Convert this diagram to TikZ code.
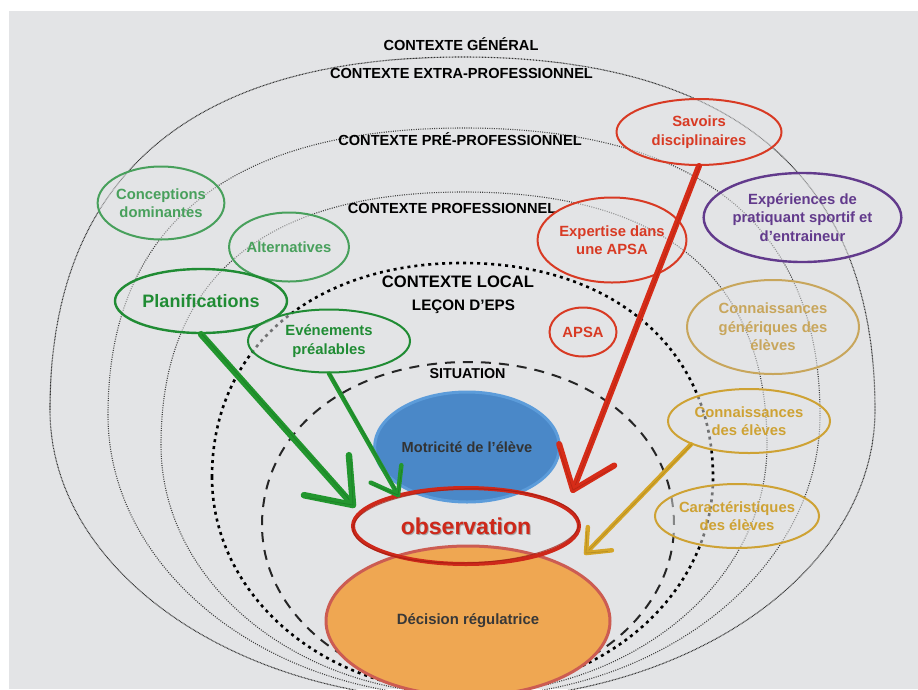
\documentclass[tikz,border=0pt]{standalone}
\usepackage{fontspec}
\setmainfont{Liberation Sans}
\usetikzlibrary{shapes.geometric,calc}
\definecolor{bg}{RGB}{227,228,230}
\definecolor{lgreen}{RGB}{72,160,92}
\definecolor{dgreen}{RGB}{32,140,52}
\definecolor{agreen}{RGB}{34,150,46}
\definecolor{cred}{RGB}{216,58,36}
\definecolor{ared}{RGB}{214,44,24}
\definecolor{cpurple}{RGB}{98,58,140}
\definecolor{cgold}{RGB}{200,166,92}
\definecolor{cgold2}{RGB}{206,162,52}
\definecolor{agold}{RGB}{212,165,40}
\definecolor{cblue}{RGB}{74,136,200}
\definecolor{cblueb}{RGB}{92,156,218}
\definecolor{corange}{RGB}{239,167,82}
\definecolor{corangeb}{RGB}{204,92,82}
\definecolor{obsred}{RGB}{206,40,26}
\newcommand\ringshape[7]{%
  ({#1},{#3}) .. controls ({#1},{#3-#6*(#3-#4)}) and ({(#1+#2)/2-#6*(#2-#1)/2},{#4}) .. ({(#1+#2)/2},{#4})
  .. controls ({(#1+#2)/2+#6*(#2-#1)/2},{#4}) and ({#2},{#3-#6*(#3-#4)}) .. ({#2},{#3})
  .. controls ({#2},{#3+#7*(#5-#3)}) and ({(#1+#2)/2+#7*(#2-#1)/2},{#5}) .. ({(#1+#2)/2},{#5})
  .. controls ({(#1+#2)/2-#7*(#2-#1)/2},{#5}) and ({#1},{#3+#7*(#5-#3)}) .. cycle}
\newcommand\skarrow[6]{%
  \draw[#1,line width=#2,line cap=round] (#3) -- (#4);
  \draw[#1!75!black,line width=0.8pt,opacity=.5] ($(#3)+(0.8,0)$) -- ($(#4)+(0.6,-0.6)$);
  \draw[#1,line width=#2,line cap=round,line join=round] ($(#4)!#5!#6:(#3)$) -- (#4) -- ($(#4)!#5!-#6:(#3)$);
  \draw[#1!75!black,line width=0.8pt,opacity=.5] ($(#4)!#5-4pt!#6+2:(#3)$) -- (#4) -- ($(#4)!#5-4pt!-#6-2:(#3)$);
}
\tikzset{
  ringA/.style={line width=1.1pt,dash pattern=on 0.8pt off 0.7pt,black!80},
  ringB/.style={line width=1.1pt,dash pattern=on 1pt off 1.3pt,black!75},
  ringC/.style={line width=2.6pt,dash pattern=on 3pt off 4pt,black},
  ringD/.style={line width=2pt,dash pattern=on 10pt off 8pt,black!85},
  ctx/.style={anchor=base,font=\bfseries\fontsize{14.6}{16}\selectfont},
  bub/.style={ellipse,line width=2pt,fill=bg,fill opacity=0.5,text opacity=1,
    inner sep=0pt,align=center,font=\bfseries\fontsize{14.8}{18.5}\selectfont},
}
\begin{document}
\begin{tikzpicture}[x=1pt,y=-1pt]
\useasboundingbox (0,0) rectangle (918,689);
\fill[white] (0,0) rectangle (918,689);
\fill[bg] (9,11) rectangle (918,689);
\begin{scope}
\clip (9,11) rectangle (918,689);
% rings
\draw[ringA] \ringshape{50}{875}{410}{57}{700}{0.66}{0.552};
\draw[ringB] \ringshape{108}{820}{415}{128}{697}{0.66}{0.552};
\draw[ringB] \ringshape{161}{767}{445}{192}{694}{0.66}{0.552};
\draw[ringC] \ringshape{212}{713}{477}{263}{692}{0.6}{0.552};
\draw[ringD] \ringshape{262}{674}{525}{362}{689}{0.58}{0.552};
% context labels
\node[ctx] (cg) at (461,50) {CONTEXTE GÉNÉRAL};
\node[ctx] (cx) at (461.5,78) {CONTEXTE EXTRA-PROFESSIONNEL};
\node[ctx] (cp) at (460,145) {CONTEXTE PRÉ-PROFESSIONNEL};
\node[ctx] (cpr) at (452,213) {CONTEXTE PROFESSIONNEL};
\node[ctx,font=\bfseries\fontsize{16.6}{18}\selectfont] (cl) at (458,287) {CONTEXTE LOCAL};
\node[ctx,font=\bfseries\fontsize{15.2}{17}\selectfont] (le) at (463.5,310) {LEÇON D’EPS};
\node[ctx,font=\bfseries\fontsize{14.3}{16}\selectfont] (si) at (467.5,378) {SITUATION};
% bubbles
\node[bub,draw=lgreen,text=lgreen,minimum width=124,minimum height=73] (conc) at (161,203) {Conceptions\\dominantes};
\node[bub,draw=lgreen,text=lgreen,minimum width=102,minimum height=69] (alt) at (289,247) {Alternatives};
\node[bub,draw=dgreen,text=dgreen,line width=2.4pt,minimum width=172,minimum height=64,font=\bfseries\fontsize{18}{20}\selectfont] (plan) at (201,301) {Planifications};
\node[bub,draw=dgreen,text=dgreen,minimum width=162,minimum height=63] (even) at (329,341) {Evénements\\préalables};
\node[bub,draw=cred,text=cred,minimum width=165,minimum height=66] (sav) at (699,132) {Savoirs\\disciplinaires};
\node[bub,draw=cred,text=cred,minimum width=120,minimum height=85] (exp) at (612,240) {Expertise dans\\une APSA};
\node[bub,draw=cred,text=cred,minimum width=67,minimum height=49] (apsa) at (583,332) {APSA};
\node[bub,draw=cpurple,text=cpurple,line width=2.4pt,minimum width=191,minimum height=89] (prat) at (802.5,217.5) {Expériences de\\pratiquant sportif et\\d’entraineur};
\node[bub,draw=cgold,text=cgold,minimum width=172,minimum height=94] (gen) at (773,327) {Connaissances\\génériques des\\élèves};
\node[bub,draw=cgold2,text=cgold2,minimum width=162,minimum height=64] (cde) at (749,421) {Connaissances\\des élèves};
\node[bub,draw=cgold2,text=cgold2,minimum width=162,minimum height=64] (car) at (737,516) {Caractéristiques\\des élèves};
% central ellipses
\node[ellipse,draw=cblueb,fill=cblue,line width=3pt,minimum width=170,minimum height=110,inner sep=0pt,
  text=black!80,font=\bfseries\fontsize{14.6}{16}\selectfont] (mot) at (467,447) {Motricité de l’élève};
\node[ellipse,draw=corangeb,fill=corange,line width=3pt,minimum width=284,minimum height=150,inner sep=0pt,
  text=black!78,font=\bfseries\fontsize{14.9}{16}\selectfont] (dec) at (468,621) {Décision régulatrice};
\node[ellipse,draw=obsred,line width=4pt,minimum width=226,minimum height=76,inner sep=0pt] (obs) at (466,526) {};
\draw[obsred!75!black,line width=1pt,opacity=.7,rotate around={1.5:(obs.center)}] (obs.center) ellipse [x radius=113, y radius=37];
\node[text=black!60,opacity=.5,font=\bfseries\fontsize{23}{25}\selectfont] at ($(obs.center)+(1,1.5)$) {observation};
\node[text=obsred,font=\bfseries\fontsize{23}{25}\selectfont] (obst) at (obs.center) {observation};
% arrows
\coordinate (tP) at (353,505);
\coordinate (tE) at (398,495);
\coordinate (tS) at (573,490);
\coordinate (tC) at (586,553);
\skarrow{agreen}{6.5pt}{plan.south}{tP}{50pt}{37}
\skarrow{agreen}{4.5pt}{even.south}{tE}{30pt}{36}
\skarrow{ared}{6pt}{sav.south}{tS}{48pt}{38}
\skarrow{agold}{4.5pt}{cde.south west}{tC}{26pt}{40}
\end{scope}
\end{tikzpicture}
\end{document}
